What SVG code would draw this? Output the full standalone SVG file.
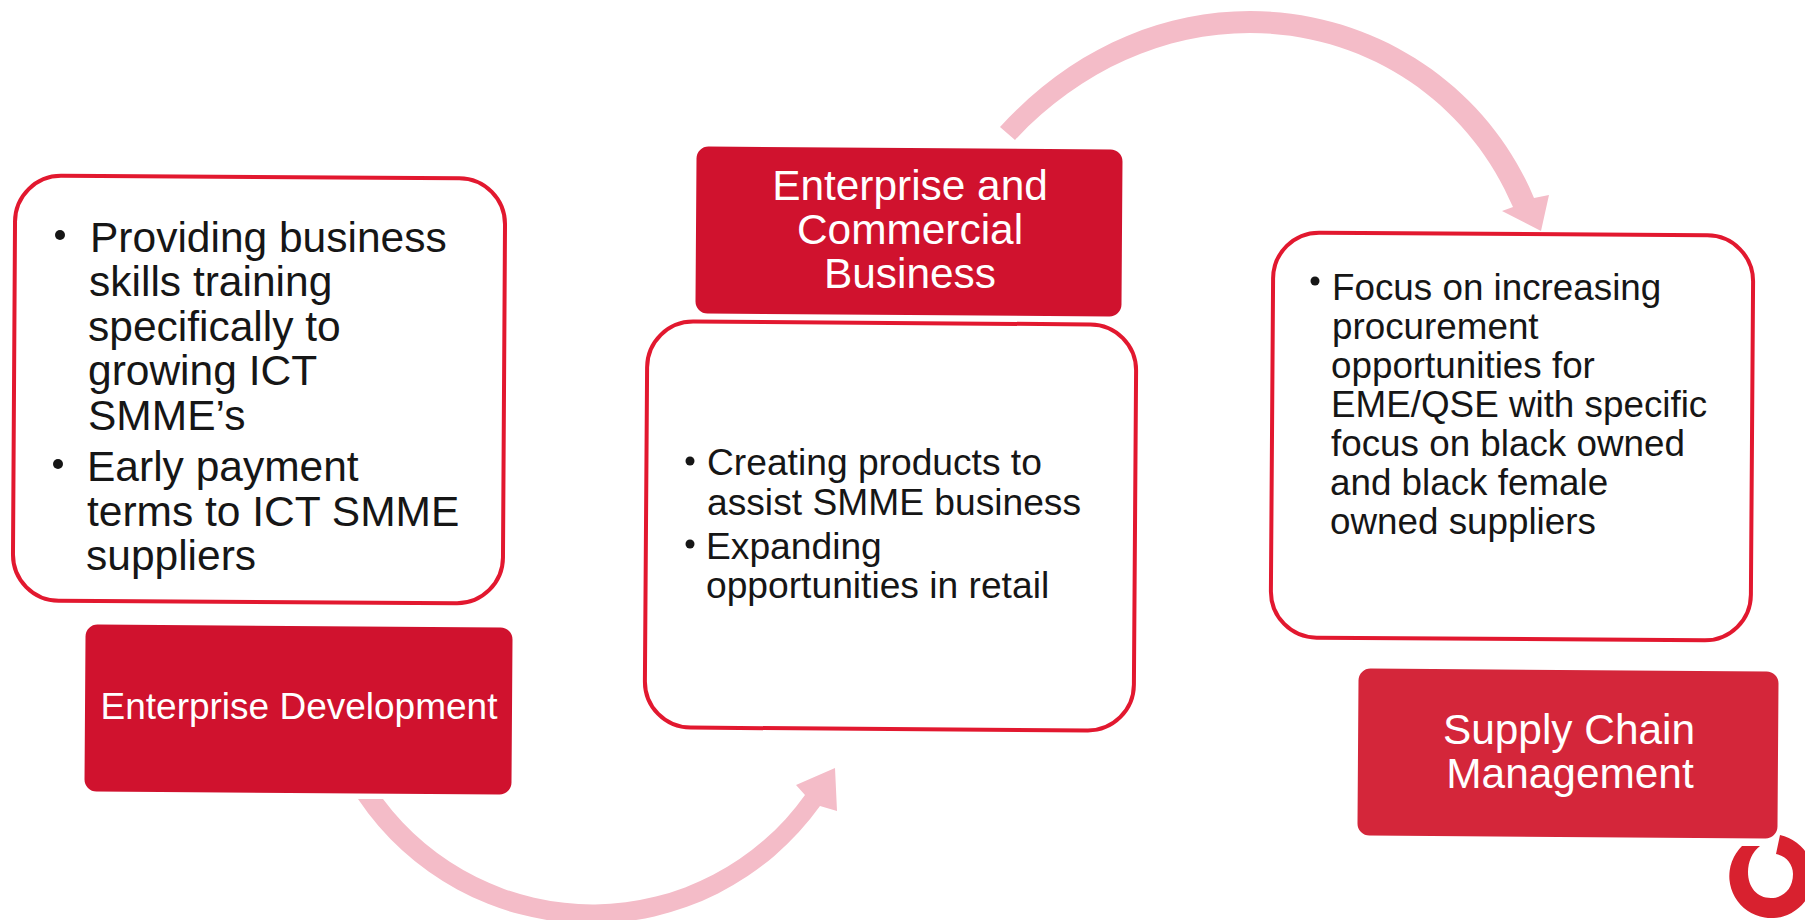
<svg xmlns="http://www.w3.org/2000/svg" width="1805" height="920" viewBox="0 0 1805 920">
<style>
text{font-family:"Liberation Sans",Arial,sans-serif}
.card{fill:#fff;stroke:#e2182f;stroke-width:4}
.head{fill:#d0122e}
.hl{fill:#fff;font-size:42.4px;text-anchor:middle}
.a{font-size:42.5px;fill:#161616}
.b{font-size:37.2px;fill:#161616}
.c{font-size:36.8px;fill:#161616}
.arrow{fill:#f4bcc8}
</style>
<rect width="1805" height="920" fill="#fff"/>
<g id="connectors">
<path class="arrow" d="M1000,127 C1070,50 1160,11 1250,11 C1380,11 1490,90 1534,198 L1549,195 L1541,231 L1502,211 L1513,207 C1470,105 1370,33 1250,33 C1165,33 1080,70 1015,140 Z"/>
<path class="arrow" d="M358,799 A281,281 0 0 0 820,806 L837,811 L835,768 L796,785 L805,795 A261,261 0 0 1 383,799 Z"/>
</g>
<g id="enterprise-development-details">
<rect class="card" x="14" y="177" width="490" height="425" rx="46" transform="rotate(0.35 259 390)"/>
<circle cx="60" cy="235" r="5" fill="#161616"/>
<text class="a" x="90" y="252">Providing business</text>
<text class="a" x="89" y="296">skills training</text>
<text class="a" x="88" y="341">specifically to</text>
<text class="a" x="88" y="385">growing ICT</text>
<text class="a" x="88" y="430">SMME’s</text>
<circle cx="58" cy="464" r="5" fill="#161616"/>
<text class="a" x="87" y="481">Early payment</text>
<text class="a" x="87" y="526">terms to ICT SMME</text>
<text class="a" x="86" y="570">suppliers</text>
</g>
<g id="enterprise-development">
<rect class="head" x="85" y="626" width="427" height="167" rx="12" transform="rotate(0.4 298 710)"/>
<text class="hl" x="299" y="719" style="font-size:37px">Enterprise Development</text>
</g>
<g id="commercial-details">
<rect class="card" x="646" y="323" width="489" height="406" rx="46" transform="rotate(0.4 890 526)"/>
<circle cx="690" cy="461" r="4.500" fill="#161616"/>
<text class="b" x="707" y="475">Creating products to</text>
<text class="b" x="707" y="515">assist SMME business</text>
<circle cx="690" cy="544" r="4.500" fill="#161616"/>
<text class="b" x="706" y="559">Expanding</text>
<text class="b" x="706" y="598">opportunities in retail</text>
</g>
<g id="commercial">
<rect class="head" x="696" y="148" width="426" height="167" rx="12" transform="rotate(0.4 909 231)"/>
<text class="hl" x="910" y="200">Enterprise and</text>
<text class="hl" x="910" y="244">Commercial</text>
<text class="hl" x="910" y="288">Business</text>
</g>
<g id="supply-chain-details">
<rect class="card" x="1272" y="234" width="480" height="405" rx="46" transform="rotate(0.4 1512 436)"/>
<circle cx="1315" cy="281" r="4.500" fill="#161616"/>
<text class="c" x="1332" y="300">Focus on increasing</text>
<text class="c" x="1332" y="339">procurement</text>
<text class="c" x="1331" y="378">opportunities for</text>
<text class="c" x="1331" y="417">EME/QSE with specific</text>
<text class="c" x="1331" y="456">focus on black owned</text>
<text class="c" x="1330" y="495">and black female</text>
<text class="c" x="1330" y="534">owned suppliers</text>
</g>
<g id="supply-chain">
<rect class="head" x="1358" y="670" width="420" height="167" rx="12" style="fill:#d4263a" transform="rotate(0.4 1568 753)"/>
<text class="hl" x="1569" y="744">Supply Chain</text>
<text class="hl" x="1570" y="788">Management</text>
</g>
<path id="logo" fill="#d8212f" d="M1742,846 L1760,846 C1752,852 1748,862 1748,872 C1748,887 1757,898 1771,898 C1783,898 1793,889 1793,874 C1793,864 1786,856 1776,854 L1780,835 A42,42 0 1 1 1742,846 Z"/>
</svg>
